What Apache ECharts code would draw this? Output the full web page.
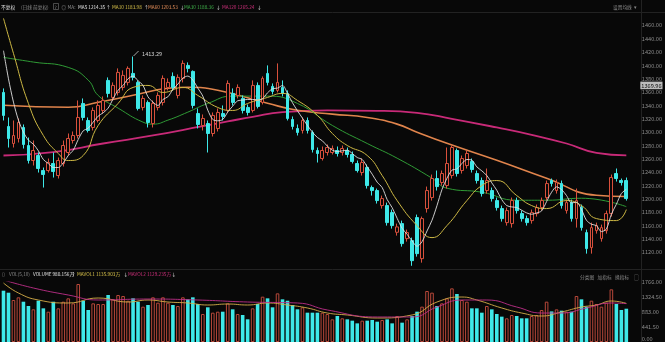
<!DOCTYPE html>
<html><head><meta charset="utf-8">
<script src="https://cdn.jsdelivr.net/npm/echarts@6/dist/echarts.min.js"></script>
<style>html,body{margin:0;padding:0;background:#080808;}#c{width:665px;height:342px;}</style>
</head><body><div id="c"></div>
<script>
// [open, close, low, high]
const candles = [
[1359.5,1325,1317.5,1365.5],[1308.5,1290.5,1277,1322],[1283,1295,1277,1317.5],[1290.5,1314.5,1284.5,1320.5],
[1307,1281.5,1275.5,1311.5],[1280,1257.5,1253,1292],[1257.5,1272.5,1250,1287.5],[1265,1245.5,1239.5,1269.5],
[1242.5,1236.5,1217,1247],[1242.5,1254.5,1239.5,1260.5],[1253,1241,1232,1269.5],[1235,1257.5,1230.5,1262],
[1253,1280,1248.5,1287.5],[1269.5,1290.5,1265,1298],[1287.5,1295,1283,1301],[1295,1322,1290.5,1347.5],
[1343,1322,1317.5,1350.5],[1317.5,1302.5,1299.5,1322],[1307,1332.5,1302.5,1337],[1317.5,1340,1314.5,1347.5],
[1332.5,1347.5,1328,1353.5],[1377.5,1358,1352,1382],[1352,1370,1347.5,1374.5],[1359.5,1389.5,1355,1395.5],
[1367,1385,1362.5,1392.5],[1374.5,1395.5,1370,1398.5],[1388,1382,1377.5,1413.29],[1374.5,1335.5,1332.5,1377.5],
[1337,1350.5,1332.5,1355],[1344.5,1314.5,1307,1347.5],[1313,1343,1307,1347.5],[1337,1355,1332.5,1359.5],
[1344.5,1380.5,1340,1385],[1367,1374.5,1362.5,1380.5],[1383.5,1367,1362.5,1389.5],[1355,1382,1350.5,1386.5],
[1380.5,1403,1374.5,1407.5],[1400,1395.5,1389.5,1404.5],[1391,1340,1335.5,1392.5],[1328,1311.5,1305.5,1335.5],
[1310,1320.5,1302.5,1326.5],[1313,1298,1269.5,1317.5],[1298,1325,1293.5,1329.5],[1305.5,1329.5,1301,1335.5],
[1328,1323.5,1317.5,1340],[1332.5,1373,1329.5,1377.5],[1358,1344.5,1340,1365.5],[1355,1367,1350.5,1371.5],
[1350.5,1332.5,1328,1355],[1337,1329.5,1325,1341.5],[1332.5,1370,1329.5,1377.5],[1370,1338.5,1335.5,1374.5],
[1344.5,1380.5,1341.5,1383.5],[1388,1374.5,1370,1400],[1368.5,1361,1356.5,1373],[1362.5,1374.5,1359.5,1403],
[1367,1358,1353.5,1377.5],[1358,1320.5,1317.5,1362.5],[1319,1308.5,1304,1323.5],[1305.5,1299.5,1295,1311.5],
[1302.5,1317.5,1298,1322],[1317.5,1302.5,1298,1322],[1299.5,1274,1269.5,1302.5],[1272.5,1268,1254.5,1277],
[1260.5,1272.5,1257.5,1278.5],[1269.5,1277,1265,1281.5],[1269.5,1275.5,1266.5,1280],[1272.5,1268,1263.5,1278.5],
[1269.5,1275.5,1265,1280],[1272.5,1266.5,1262,1277],[1266.5,1256,1253,1271],[1253,1242.5,1239.5,1257.5],
[1239.5,1254.5,1235,1260.5],[1247,1220,1215.5,1251.5],[1217,1212.5,1205,1220],[1212.5,1197.5,1193,1215.5],
[1190,1200.5,1185.5,1205],[1190,1164.5,1160,1194.5],[1179.5,1160,1155.5,1184],[1150,1158,1145,1163],
[1163,1133,1128.5,1167.5],[1140.5,1149.5,1136,1154],[1137.5,1107.5,1099.78,1142],[1172,1118,1113.5,1176.5],
[1110.5,1170.5,1104.5,1173.5],[1185.5,1212.5,1179.5,1218.5],[1202,1230.5,1197.5,1236.5],[1230.5,1218.5,1212.5,1242.5],
[1224.5,1238,1220,1242.5],[1220,1253,1215.5,1277],[1235,1277,1230.5,1280],[1272.5,1238,1233.5,1275.5],
[1242.5,1260.5,1238,1265],[1250,1268,1245.5,1272.5],[1256,1244,1239.5,1260.5],[1238,1227.5,1223,1242.5],
[1227.5,1208,1203.5,1232],[1212.5,1227.5,1208,1245.5],[1212.5,1200.5,1196,1217],[1197.5,1187,1182.5,1202],
[1185.5,1170.5,1166,1190],[1164.5,1182.5,1160,1187],[1163,1197.5,1157,1202],[1197.5,1182.5,1178,1202],
[1178,1170.5,1166,1182.5],[1170.5,1164.5,1160,1175],[1167.5,1179.5,1163,1184],[1178,1187,1173.5,1191.5],
[1187,1197.5,1182.5,1202],[1202,1223,1197.5,1227.5],[1227.5,1223,1218.5,1230.5],[1212.5,1224.5,1208,1229],
[1223,1190,1185.5,1227.5],[1182.5,1194.5,1178,1199],[1194.5,1170.5,1166,1199],[1170.5,1197.5,1157,1215.5],
[1187,1157,1152.5,1191.5],[1149.5,1125.5,1118,1154],[1127,1157,1118,1164.5],[1152.5,1160,1148,1164.5],
[1140.5,1157,1136,1161.5],[1152.5,1178,1148,1182.5],[1178,1232,1173.5,1236.5],[1238,1230.5,1226,1245.5],
[1227.5,1224.5,1220,1230.5],[1227.5,1200.5,1197.5,1232]
];
// volume in 万
const volumes = [1510,1451,1236,1315,1186,1060,962,1215,991,892,1186,991,1186,1285,1138,1707,1215,942,1138,1118,
1118,1383,1256,1383,1354,1215,1285,1186,1039,1089,1315,1157,1315,1157,1089,1060,1315,1256,1315,1118,
824,1021,863,892,892,1138,962,824,795,668,991,1118,1334,1285,1021,1432,1256,1215,1089,962,
1021,863,863,863,863,824,667,765,697,667,628,549,628,628,647,598,647,667,549,765,
569,667,765,893,1040,1501,1452,1059,1138,1285,1579,1413,1236,1187,991,991,863,1059,961,824,
746,697,795,765,697,697,765,795,942,1187,900,961,922,893,893,1354,1256,1040,1216,1118,
1040,1158,1550,1118,942,980];
const ma5 = [1422,1380,1345,1318,1300,1288,1282,1272,1259,1253,1247,1247,1254,1265,1273,1289,1302,1306,1315,1324,
1329,1336,1350,1363,1370,1380,1384,1377,1370,1353,1345,1340,1349,1353,1364,1372,1381,1384,1378,1366,
1354,1333,1319,1317,1319,1330,1339,1347,1348,1349,1349,1348,1350,1359,1365,1366,1370,1358,1344,1332,
1321,1310,1300,1292,1287,1279,1273,1271,1272,1273,1268,1262,1259,1248,1237,1225,1217,1199,1187,1171,
1156,1147,1137,1129,1136,1152,1168,1190,1214,1231,1243,1245,1253,1259,1258,1248,1242,1235,1224,1213,
1199,1190,1188,1187,1183,1179,1177,1179,1182,1196,1210,1218,1214,1205,1194,1195,1184,1168,1162,1160,
1151,1155,1177,1192,1208,1214.35];
// sampled [index, value]
const ma10 = [[0,1470.5],[2,1418],[5,1343],[8,1295],[11,1268],[13,1257.5],[16,1265],[19,1310],[23,1343],[26,1367],
[29,1370],[32,1359.5],[36,1367],[39,1355],[43,1337],[46,1332.5],[49,1343],[53,1352],[56,1358],[59,1347.5],
[63,1325],[66,1298],[69,1280],[73,1265],[76,1235],[79,1197.5],[83,1160],[86,1142],[89,1160],[93,1197.5],
[96,1220],[99,1227.5],[103,1205],[106,1190],[109,1185.5],[113,1197.5],[116,1190],[119,1170.5],[123,1167.5],[125,1183.98]];
const ma60 = [[0,1340.2],[13,1337.2],[19,1344.7],[26,1355.2],[33,1365.7],[37,1367.2],[43,1362.7],[53,1343.2],[59,1332.7],
[66,1327],[73,1322],[79,1312],[83,1300],[89,1283.3],[99,1257.8],[109,1230.9],[119,1205.4],[125,1203.53]];
const ma30 = [[0,1412],[6,1405],[13,1397],[17,1378],[19,1355],[23,1336],[28,1315],[30,1312],[33,1318],[37,1330],
[41,1343],[46,1354],[53,1354],[59,1343],[66,1310],[73,1283],[79,1261],[86,1231],[89,1216],[96,1210],[103,1198],
[109,1198],[116,1201],[125,1188.36]];
const ma120 = [[0,1265],[10,1270],[20,1283],[30,1295],[40,1309],[45,1316],[50,1323],[56,1330],[65,1332.5],[75,1332],
[83,1329],[90,1320],[99,1307],[106,1296],[113,1283],[119,1269],[125,1265.24]];
const mavol1 = [[0,1736],[3,1442],[7,1236],[13,1148],[19,1295],[25,1177],[29,1236],[33,1177],[37,1148],[41,1089],
[45,1118],[49,1089],[53,1148],[57,1089],[61,1001],[65,853],[69,795],[75,706],[82,795],[87,1177],[92,1324],[95,1236],
[100,1001],[104,853],[108,765],[112,883],[116,1030],[119,1089],[122,1207],[125,1135.9]];
const mavol2 = [[0,1825],[6,1589],[13,1383],[19,1236],[29,1265],[39,1236],[49,1177],[59,1148],[65,942],[75,736],
[82,736],[87,1030],[92,1236],[97,1236],[103,1030],[108,853],[112,853],[117,1001],[122,1148],[125,1129.2]];
const categories = candles.map((c, i) => 'D' + (i + 1));
const priceAxis = {min: 1100, max: 1480, interval: 20};
const volAxis = {min: 0, max: 1766, interval: 441.5};
const highMark = {index: 26, value: 1413.29, text: '1413.29'};
const lowMark = {index: 82, value: 1099.78, text: '1099.78'};
const markedPrice = {value: 1370, text: '1369.96'};

// header texts: [text, colour key, x]
const headerItems = [
  ['不复权', 'w', 1], ['(日线 前复权)', 'g', 21], ['?', 'g', 54.5], ['◎', 'g', 61.5], ['MA:', 'g', 67.5],
  ['MA5 1214.35', 'w', 78], ['↑', 'w', 106], ['MA10 1183.98', 'y', 112], ['↑', 'w', 144],
  ['MA60 1203.53', 'o', 148], ['↓', 'w', 180], ['MA30 1188.36', 'gr', 184], ['↓', 'w', 216],
  ['MA120 1265.24', 'm', 222], ['↓', 'w', 257]
];
const volHeaderItems = [
  ['▯', 'g', 1.5], ['VOL(5,10)', 'g', 9], ['VOLUME 980.156万', 'w', 33], ['↑', 'w', 71],
  ['MAVOL1 1135.903万', 'y', 77], ['↓', 'w', 123.5], ['MAVOL2 1129.235万', 'm', 128], ['↓', 'w', 171.5]
];
const rightTop = [['设置均线', 'g', 613], ['▾', 'g', 634]];
const rightVol = [['分类图', 'g', 580], ['加指标', 'g', 597.5], ['换指标', 'g', 615], ['▢', 'g', 634]];

const F = '"Noto Sans CJK SC","Noto Sans",sans-serif';
const UP = '#d9503c', DOWN = '#3ee8e8', BG = '#080808';
const COL = {w: '#e2e2e2', g: '#8a8a8a', y: '#d8c24a', o: '#e8905a', gr: '#3fb04a', m: '#d0307c'};
const chart = echarts.init(document.getElementById('c'));
const gridL = 1, gridW = 629.4;
const hfs = 4.7;
function texts(items, y) {
  return items.map(t => ({type: 'text', x: t[2], y: y, silent: true,
    style: {text: t[0], fill: COL[t[1]], font: hfs + 'px ' + F, verticalAlign: 'middle', align: 'left'}}));
}
chart.setOption({
  backgroundColor: BG,
  animation: false,
  graphic: [
    {type: 'line', shape: {x1: 0, y1: 12.5, x2: 665, y2: 12.5}, style: {stroke: '#222', lineWidth: 1}, silent: true},
    {type: 'line', shape: {x1: 0, y1: 269.5, x2: 665, y2: 269.5}, style: {stroke: '#222', lineWidth: 1}, silent: true},
    {type: 'line', shape: {x1: 641.5, y1: 0, x2: 641.5, y2: 342}, style: {stroke: '#222', lineWidth: 1}, silent: true},
    {type: 'rect', shape: {x: 53.5, y: 3.5, width: 5, height: 6}, style: {fill: 'none', stroke: '#777', lineWidth: 0.6}, silent: true}
  ].concat(texts(headerItems, 6.8), texts(rightTop, 6.8), texts(volHeaderItems, 274.5), texts(rightVol, 277.5)),
  grid: [
    {left: gridL, width: gridW, top: 12, height: 253.65},
    {left: gridL, width: gridW, top: 282, height: 60}
  ],
  xAxis: [
    {type: 'category', data: categories, gridIndex: 0, boundaryGap: true, show: false},
    {type: 'category', data: categories, gridIndex: 1, boundaryGap: true, show: false}
  ],
  yAxis: [
    {type: 'value', gridIndex: 0, position: 'right', offset: 11, min: priceAxis.min, max: priceAxis.max, interval: priceAxis.interval,
     axisLine: {show: false}, axisTick: {show: false}, splitLine: {show: false},
     axisLabel: {color: '#8c8c8c', fontSize: 5.6, fontFamily: F, margin: 2, showMinLabel: false, showMaxLabel: false,
       formatter: v => v.toFixed(2)}},
    {type: 'value', gridIndex: 1, position: 'right', offset: 11, min: volAxis.min, max: volAxis.max, interval: volAxis.interval,
     axisLine: {show: false}, axisTick: {show: false}, splitLine: {show: false},
     axisLabel: {color: '#8c8c8c', fontSize: 5.6, fontFamily: F, margin: 2, verticalAlignMinLabel: 'bottom',
       formatter: v => v.toFixed(2)}}
  ],
  series: [
    {type: 'line', name: 'MA120', data: ma120, smooth: true, symbol: 'none', lineStyle: {color: '#c82a78', width: 1.8}, z: 2},
    {type: 'line', name: 'MA60', data: ma60, smooth: true, symbol: 'none', lineStyle: {color: '#e0844c', width: 1.6}, z: 2},
    {type: 'line', name: 'MA30', data: ma30, smooth: true, symbol: 'none', lineStyle: {color: '#2f9a35', width: 1}, z: 2},
    {type: 'candlestick', name: 'K', data: candles.map(c => [c[0], c[1], c[2], c[3]]), barWidth: 3.3, clip: false,
     itemStyle: {color: BG, color0: DOWN, borderColor: UP, borderColor0: DOWN, borderWidth: 1}, z: 3,
     markLine: {silent: true, symbol: 'none', animation: false,
       data: [{yAxis: markedPrice.value, lineStyle: {width: 0, color: 'rgba(0,0,0,0)'},
         label: {show: true, position: 'end', distance: 11.5, formatter: markedPrice.text, color: '#111',
           backgroundColor: '#bdbdbd', padding: [1, 1], fontSize: 5.6, fontFamily: F, opacity: 1}}]},
     markPoint: {animation: false, data: [
       {coord: [highMark.index, highMark.value], symbol: 'path://M0,10L10,0', symbolSize: [5, 5], symbolOffset: [3, -3],
        itemStyle: {color: 'none', borderColor: '#d0d0d0', borderWidth: 0.8},
        label: {show: true, position: 'right', distance: 1, formatter: highMark.text, color: '#d0d0d0', fontSize: 5.6, fontFamily: F}},
       {coord: [lowMark.index, lowMark.value], symbol: 'path://M0,0L10,2', symbolSize: [6, 2], symbolOffset: [4, 0],
        itemStyle: {color: 'none', borderColor: '#d0d0d0', borderWidth: 0.8},
        label: {show: true, position: 'right', distance: 1, formatter: lowMark.text, color: '#d0d0d0', fontSize: 5.6, fontFamily: F}}
     ]}},
    {type: 'line', name: 'MA10', data: ma10, smooth: true, symbol: 'none', lineStyle: {color: '#cdb844', width: 1}, z: 4},
    {type: 'line', name: 'MA5', data: ma5, smooth: 0.3, symbol: 'none', lineStyle: {color: '#e0e0e0', width: 0.9}, z: 4},
    {type: 'bar', xAxisIndex: 1, yAxisIndex: 1, barWidth: 3.6,
     data: volumes.map((v, i) => ({value: v, itemStyle: candles[i][1] >= candles[i][0]
        ? {color: BG, borderColor: '#b8483a', borderWidth: 1} : {color: DOWN}}))},
    {type: 'line', xAxisIndex: 1, yAxisIndex: 1, data: mavol1, smooth: true, symbol: 'none', lineStyle: {color: '#d8b04a', width: 0.9}, z: 4},
    {type: 'line', xAxisIndex: 1, yAxisIndex: 1, data: mavol2, smooth: true, symbol: 'none', lineStyle: {color: '#c0308a', width: 0.9}, z: 4}
  ]
});
</script></body></html>
